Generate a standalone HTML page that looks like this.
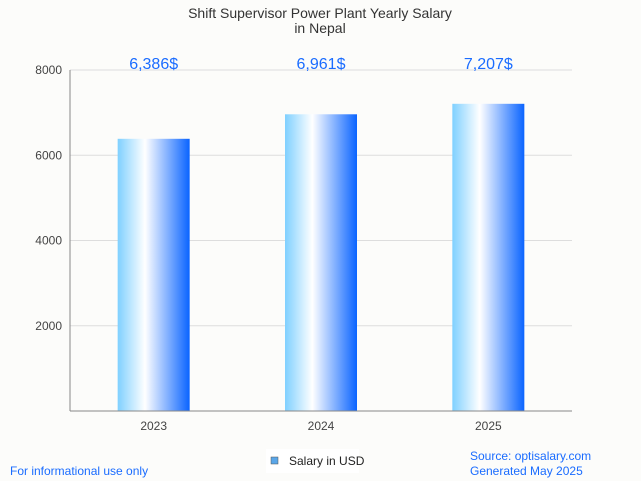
<!DOCTYPE html>
<html><head><meta charset="utf-8"><style>
body{margin:0;background:#fcfcfa;font-family:"Liberation Sans",sans-serif}
svg{display:block}
</style></head><body>
<svg id="c" width="641" height="481">
<defs><linearGradient id="g" x1="0" x2="1" y1="0" y2="0">
<stop offset="0" stop-color="#7fd0ff"/><stop offset="0.38" stop-color="#ffffff"/><stop offset="1" stop-color="#0a64ff"/>
</linearGradient></defs>
<rect width="641" height="481" fill="#fcfcfa"/>
<text x="320" y="18" text-anchor="middle" font-size="14" fill="#333">Shift Supervisor Power Plant Yearly Salary</text>
<text x="320" y="33" text-anchor="middle" font-size="14" fill="#333">in Nepal</text>
<g id="grid"></g><g id="bars"></g>
<line x1="70" y1="70" x2="70" y2="411" stroke="#888"/>
<line x1="70" y1="411" x2="572" y2="411" stroke="#888"/>
<rect x="266" y="449" width="93" height="24" fill="#fff"/>
<rect x="271" y="457" width="7" height="7" fill="#5aa6e8" stroke="#555" stroke-width="0.5"/>
<text x="289" y="465" font-size="12" fill="#222">Salary in USD</text>
<text x="10" y="475" font-size="12" fill="#1a6cff">For informational use only</text>
<text x="470" y="460" font-size="12" fill="#1a6cff">Source: optisalary.com</text>
<text x="470" y="475" font-size="12" fill="#1a6cff">Generated May 2025</text>
</svg>
<script>
const categories=["2023","2024","2025"];
const values=[6386,6961,7207];
const labels=["6,386$","6,961$","7,207$"];
const yTicks=[2000,4000,6000,8000];
const y=v=>411-v*(341/8000);
const x=i=>70+(i+0.5)*(502/3);
const NS="http://www.w3.org/2000/svg";
const grid=document.getElementById('grid'),bars=document.getElementById('bars');
function mk(t,a,p){const e=document.createElementNS(NS,t);for(const k in a)e.setAttribute(k,a[k]);p.appendChild(e);return e;}
yTicks.forEach(t=>{
 const l=mk('line',{x1:70,x2:572,y1:y(t),y2:y(t),stroke:'#ddd'},grid);
 
 
 const tx=mk('text',{x:62,y:y(t)+4,'text-anchor':'end','font-size':12,fill:'#444'},grid);
 tx.textContent=t;
 
 
});
categories.forEach((c,i)=>{
 const r=mk('rect',{x:x(i)-36,y:y(values[i]),width:72,height:411-y(values[i]),fill:'url(#g)'},bars);
 
 
 const v=mk('text',{x:x(i),y:69,'text-anchor':'middle','font-size':16,fill:'#1a6cff'},bars);
 v.textContent=labels[i];
 
 
 const t=mk('text',{x:x(i),y:430,'text-anchor':'middle','font-size':12,fill:'#444'},bars);
 t.textContent=c;
 
 
});
</script>
</body></html>
